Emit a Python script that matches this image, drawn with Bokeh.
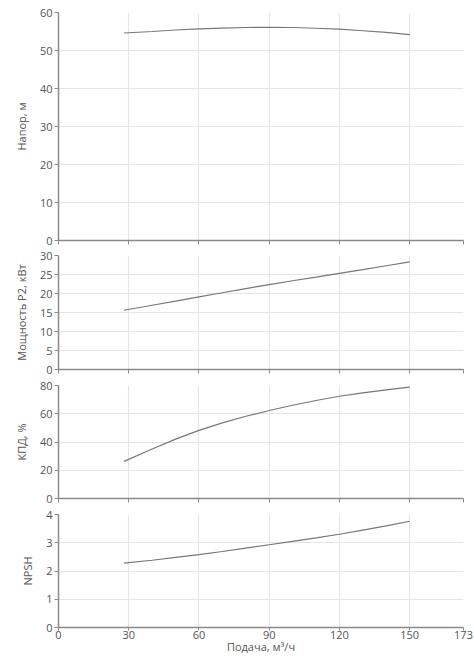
from bokeh.plotting import figure
from bokeh.layouts import column
from bokeh.models import Range1d, FixedTicker
from bokeh.embed import file_html
from bokeh.resources import INLINE

flow = [28, 40, 50, 60, 70, 80, 90, 100, 110, 120, 130, 140, 150]
head = [54.6, 55.0, 55.4, 55.7, 55.9, 56.05, 56.1, 56.05, 55.85, 55.6, 55.2, 54.75, 54.2]
power = [15.6, 16.9, 18.0, 19.1, 20.2, 21.3, 22.35, 23.35, 24.3, 25.3, 26.3, 27.3, 28.3]
eff = [26.3, 35.0, 42.0, 48.2, 53.5, 58.2, 62.3, 66.0, 69.4, 72.4, 74.8, 76.9, 78.8]
npsh = [2.28, 2.38, 2.48, 2.58, 2.69, 2.81, 2.93, 3.05, 3.17, 3.30, 3.45, 3.60, 3.76]

x_ticks = [0, 30, 60, 90, 120, 150, 173]
x_max = 173
x_label = "Подача, м³/ч"

panels = [
    ("Напор, м", head, 60, [0, 10, 20, 30, 40, 50, 60]),
    ("Мощность P2, кВт", power, 30, [0, 5, 10, 15, 20, 25, 30]),
    ("КПД, %", eff, 80, [0, 20, 40, 60, 80]),
    ("NPSH", npsh, 4, [0, 1, 2, 3, 4]),
]

frame_heights = [228, 114, 113, 113]
tops = [12, 7, 8, 8]

FONT = "Open Sans"
LABEL_COLOR = "#555555"
AXIS_COLOR = "#8a8a8a"
GRID_COLOR = "#e6e6e6"

figs = []
for i, (ylab, ys, ymax, yticks) in enumerate(panels):
    last = i == len(panels) - 1
    p = figure(
        frame_width=405,
        frame_height=frame_heights[i],
        x_range=Range1d(0, x_max),
        y_range=Range1d(0, ymax),
        output_backend="svg",
        toolbar_location=None,
        min_border_left=58,
        min_border_right=10,
        min_border_top=tops[i],
        min_border_bottom=8 if not last else 0,
    )
    p.outline_line_color = None
    p.background_fill_color = "white"
    p.border_fill_color = "white"
    p.line(flow, ys, line_color="#777777", line_width=1.2)

    p.xaxis.ticker = FixedTicker(ticks=x_ticks)
    p.yaxis.ticker = FixedTicker(ticks=yticks)
    for ax in (p.xaxis[0], p.yaxis[0]):
        ax.axis_line_color = AXIS_COLOR
        ax.axis_line_width = 1.5
        ax.major_tick_line_color = AXIS_COLOR
        ax.major_tick_line_width = 1
        ax.major_tick_out = 4
        ax.major_tick_in = 0
        ax.minor_tick_line_color = None
        ax.major_label_text_font = FONT
        ax.major_label_text_font_size = "11px"
        ax.major_label_text_color = LABEL_COLOR
        ax.axis_label_text_font = FONT
        ax.axis_label_text_font_size = "11px"
        ax.axis_label_text_font_style = "normal"
        ax.axis_label_text_color = LABEL_COLOR
    p.yaxis.axis_label = ylab
    p.yaxis.major_label_standoff = 2
    p.yaxis.axis_label_standoff = 8
    if last:
        p.xaxis.axis_label = x_label
        p.xaxis.major_tick_out = 3
        p.xaxis.major_label_standoff = 0
        p.xaxis.axis_label_standoff = -3
    else:
        p.xaxis.major_label_text_color = None
        p.xaxis.major_label_standoff = 0
    p.xgrid.ticker = FixedTicker(ticks=x_ticks)
    p.ygrid.ticker = FixedTicker(ticks=yticks)
    p.xgrid.grid_line_color = GRID_COLOR
    p.ygrid.grid_line_color = GRID_COLOR
    p.xgrid.grid_line_width = 1.2
    p.ygrid.grid_line_width = 1.2
    figs.append(p)

layout = column(*figs, spacing=0)
open("out.html", "w").write(file_html(layout, INLINE))
